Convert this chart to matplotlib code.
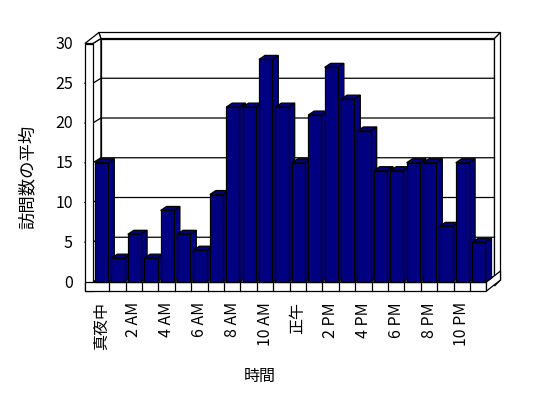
import matplotlib
matplotlib.use("Agg")
import matplotlib.pyplot as plt
from matplotlib.patches import Polygon

plt.rcParams['font.family'] = ['Noto Sans CJK JP', 'DejaVu Sans']

hours = ['真夜中', '1 AM', '2 AM', '3 AM', '4 AM', '5 AM', '6 AM', '7 AM', '8 AM', '9 AM',
         '10 AM', '11 AM', '正午', '1 PM', '2 PM', '3 PM', '4 PM', '5 PM', '6 PM', '7 PM',
         '8 PM', '9 PM', '10 PM', '11 PM']
visits = [15, 3, 6, 3, 9, 6, 4, 11, 22, 22, 28, 22, 15, 21, 27, 23, 19, 14, 14, 15, 15, 7, 15, 5]
yticks = [0, 5, 10, 15, 20, 25, 30]
xlabel = '時間'
ylabel = '訪問数の平均'

W, H = 548, 398
fig = plt.figure(figsize=(W / 100, H / 100), dpi=100)
ax = fig.add_axes([0, 0, 1, 1])
ax.set_axis_off()

# pixel scale
SX = 16.4     # px per category slot
SY = 7.95     # px per value unit
X0 = 92.9     # px of slot 0 left (front)
Y0 = 282.0    # px of value 0 (front)
ax.set_xlim(-X0 / SX, (W - X0) / SX)
ax.set_ylim((Y0 - H) / SY, Y0 / SY)

def px(d):
    return d / SX

def py(d):
    return d / SY

n = len(visits)
ymax = yticks[-1]
lw = 0.9
BDX, BDY = px(8), py(5)          # inner box depth
ODX, ODY = px(14), py(11)        # outer (wall thickness) depth
WT = px(8)                       # left wall thickness
FT = py(9)                       # floor thickness
xr = n                           # right end (slots)

def poly(pts, fc='white', z=1):
    ax.add_patch(Polygon(pts, closed=True, facecolor=fc, edgecolor='black',
                         linewidth=lw, zorder=z, joinstyle='miter'))

# back wall inner face
poly([(BDX, BDY), (xr + BDX, BDY), (xr + BDX, ymax + BDY), (BDX, ymax + BDY)], z=1)
# back wall top face
poly([(BDX, ymax + BDY), (xr + BDX, ymax + BDY), (xr + ODX, ymax + ODY),
      (-WT + ODX, ymax + ODY)], z=1)
# back wall right side face
poly([(xr + BDX, ymax + BDY), (xr + ODX, ymax + ODY), (xr + ODX, -FT + ODY),
      (xr + BDX, -FT + BDY)], z=1)
# floor right side face
poly([(xr, 0), (xr, -FT), (xr + ODX, -FT + ODY), (xr + ODX, ODY)], z=1.5)
# left wall inner face
poly([(0, 0), (BDX, BDY), (BDX, ymax + BDY), (0, ymax)], z=1.2)
# left wall top face
poly([(-WT, ymax), (0, ymax), (BDX, ymax + BDY), (-WT + ODX, ymax + ODY)], z=1.2)
# left wall front face
poly([(-WT, -FT), (0, -FT), (0, ymax), (-WT, ymax)], z=1.3)
# floor top face
poly([(0, 0), (xr, 0), (xr + BDX, BDY), (BDX, BDY)], z=1.1)
# floor front face
poly([(-WT, -FT), (xr, -FT), (xr, 0), (-WT, 0)], z=1.4)

# gridlines
for v in yticks[1:-1]:
    ax.plot([-WT, 0, BDX, xr + BDX], [v, v, v + BDY, v + BDY],
            color='black', lw=lw, zorder=1.25, solid_joinstyle='miter')
# floor tick marks
for k in range(1, n):
    ax.plot([k, k], [0, -FT], color='black', lw=lw, zorder=1.45)

# bars
bl = px(2.1)
bw = px(13.3)
ddx, ddy = px(6), py(4)
navy = '#000080'
for i, v in enumerate(visits):
    z = 3 + i * 0.01
    xl = i + bl
    poly([(xl + bw, 0), (xl + bw + ddx, ddy), (xl + bw + ddx, v + ddy), (xl + bw, v)],
         fc=navy, z=z)
    poly([(xl, v), (xl + bw, v), (xl + bw + ddx, v + ddy), (xl + ddx, v + ddy)],
         fc=navy, z=z)
ax.bar([i + bl for i in range(n)], visits, width=bw, align='edge', color=navy,
       edgecolor='black', linewidth=lw, zorder=3.5)

# y tick labels
for v in yticks:
    ax.text(px(73 - X0), v - py(1), str(v), ha='right', va='center', fontsize=11.5)

# x tick labels
for i in range(0, n, 2):
    ax.text(i + 0.5, py(Y0 - 302), hours[i], rotation=90, ha='center', va='top',
            fontsize=11.5)

ax.text(px(260 - X0), py(Y0 - 376), xlabel, ha='center', va='center', fontsize=11.5)
ax.text(px(28 - X0), py(Y0 - 177), ylabel, rotation=90, ha='center', va='center',
        fontsize=12.5)

fig.savefig('out.png', dpi=100)
